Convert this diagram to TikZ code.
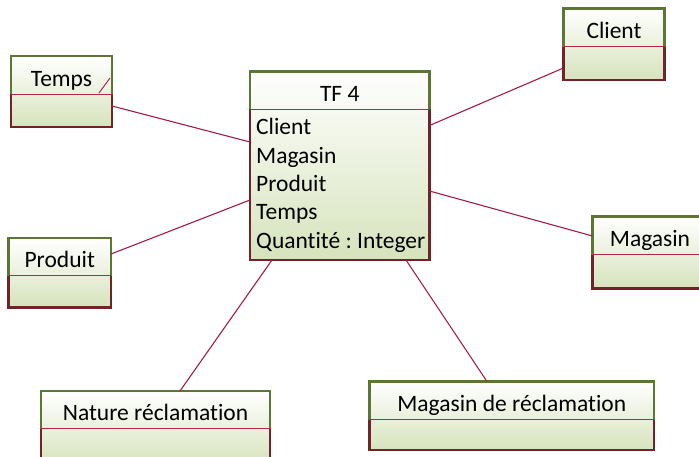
\documentclass[tikz,border=0pt]{standalone}
\usepackage{fontspec}
\setmainfont{Carlito}[Ligatures=NoCommon]
\frenchspacing
\usetikzlibrary{calc}
\definecolor{gborder}{RGB}{94,118,52}
\definecolor{rborder}{RGB}{112,36,40}
\definecolor{divcol}{RGB}{176,40,80}
\definecolor{linkcol}{RGB}{160,30,70}
\definecolor{boxgreen}{RGB}{214,227,188}
\tikzset{
 umlbox/.style={shade, top color=white, bottom color=boxgreen, inner sep=0pt, outer sep=0pt, anchor=north west, draw=none},
 gline/.style={draw=gborder, line width=2.2pt},
 rline/.style={draw=rborder, line width=2.2pt},
 divline/.style={draw=divcol, line width=1pt},
 link/.style={draw=linkcol, line width=1.1pt},
 umltitle/.style={font=\fontsize{23.5}{28}\selectfont, inner sep=0pt, anchor=base},
 umlattr/.style={font=\fontsize{23.5}{28}\selectfont, inner sep=0pt, anchor=base west},
}
% #1 name, #2 x, #3 y, #4 width, #5 height, #6 divider offset, #7 title
\newcommand\umlboxdraw[7]{%
 \node[umlbox, minimum width=#4pt, minimum height=#5pt] (#1) at (#2,#3) {};
 \coordinate (#1-dl) at ($(#1.north west)+(0,#6)$);
 \coordinate (#1-dr) at ($(#1.north east)+(0,#6)$);
 \draw[gline] (#1-dl) -- (#1.north west) -- (#1.north east) -- (#1-dr);
 \draw[rline] (#1-dl) -- (#1.south west) -- (#1.south east) -- (#1-dr);
 \draw[divline] (#1-dl) -- (#1-dr);
 \node[umltitle] (#1-t) at ($(#1.north)+(0,#6-8)$) {#7};
}
\begin{document}
\begin{tikzpicture}[x=1pt,y=-1pt]
\clip (0,0) rectangle (699,457);
\fill[white] (0,0) rectangle (699,457);

\umlboxdraw{temps}{11}{56}{101}{71}{38.3}{Temps}
\umlboxdraw{client}{563.5}{8.5}{101}{71.5}{38.3}{Client}
\umlboxdraw{magasin}{592.5}{216.5}{115}{72}{38.5}{Magasin}
\umlboxdraw{produit}{8.5}{238}{102.5}{69.5}{38}{Produit}
\umlboxdraw{nature}{41}{391}{229}{75}{37.7}{Nature réclamation}
\umlboxdraw{magrec}{369.5}{381.5}{284.5}{68.5}{38}{Magasin de réclamation}
\umlboxdraw{tf4}{250}{71.5}{179.5}{188.5}{38}{TF 4}

\node[umlattr] (tf4-a1) at (256,135) {Client};
\node[umlattr] (tf4-a2) at (256,163.3) {Magasin};
\node[umlattr] (tf4-a3) at (256,191.6) {Produit};
\node[umlattr] (tf4-a4) at (256,220) {Temps};
\node[umlattr] (tf4-a5) at (256,248.3) {Quantité : Integer};

\draw[link] ($(temps.north east)+(0,50)$) -- ($(tf4.north west)+(0,70.5)$);
\draw[link] ($(client.north west)+(0,59.5)$) -- ($(tf4.north east)+(0,54)$);
\draw[link] ($(magasin.north west)+(0,19.5)$) -- ($(tf4.north east)+(0,119.5)$);
\draw[link] ($(produit.north east)+(0,16)$) -- ($(tf4.north west)+(0,128.5)$);
\draw[link] ($(nature.north west)+(139,0)$) -- ($(tf4.south west)+(22,0)$);
\draw[link] ($(magrec.north west)+(117.5,0)$) -- ($(tf4.south west)+(156,0)$);
\draw[link, line width=0.9pt] ($(temps.north west)+(88,37)$) -- ($(temps.north west)+(99,22)$);
\end{tikzpicture}
\end{document}
